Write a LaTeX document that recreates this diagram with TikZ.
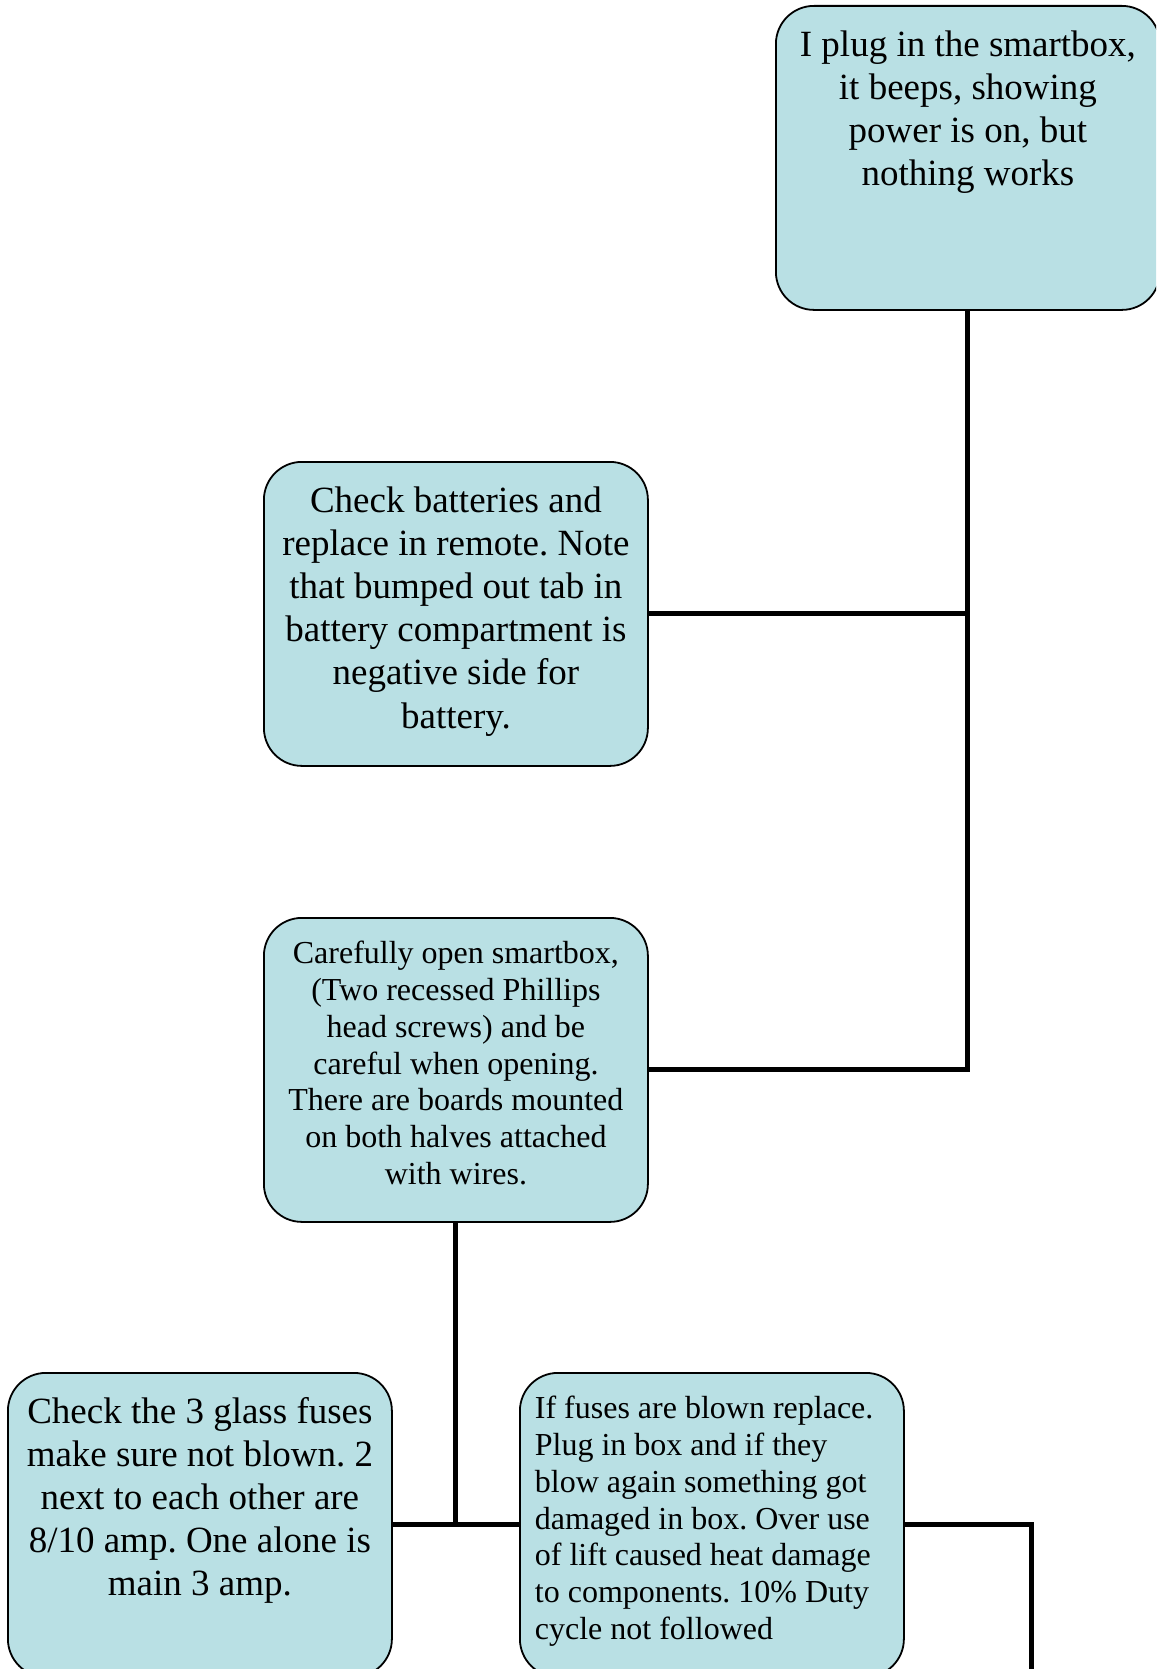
\documentclass[tikz,border=0pt]{standalone}
\usepackage{fontspec}
\setmainfont{Liberation Serif}
\frenchspacing

\definecolor{boxfill}{RGB}{185,224,228}

% text inside a box, set from the top
\newcommand{\boxtext}[2]{\parbox[c][152pt][t]{177pt}{#1\vspace*{10pt}\strut\ignorespaces#2}}
\newcommand{\bigtext}{\fontsize{18.5}{21.6}\selectfont}
\newcommand{\smalltext}{\fontsize{16}{18.4}\selectfont}

\tikzset{
  tbox/.style={draw, line width=0.9pt, fill=boxfill, rounded corners=19pt,
    inner xsep=7.5pt, inner ysep=0pt, minimum width=192pt, minimum height=152pt,
    anchor=north west},
  link/.style={line width=2.5pt}
}

\begin{document}
\begin{tikzpicture}[x=0.5pt,y=-0.5pt]
				\clip (0,0) rectangle (1156,1669);
				
				% Boxes
				\node[tbox] (plug) at (775,5) {\boxtext{\centering\bigtext}{I plug in the smartbox,\\ it beeps, showing\\ power is on, but\\ nothing works}};
				\node[tbox] (batt) at (263,461) {\boxtext{\centering\bigtext}{Check batteries and\\ replace in remote. Note\\ that bumped out tab in\\ battery compartment is\\ negative side for\\ battery.}};
				\node[tbox] (open) at (263,917) {\boxtext{\centering\smalltext}{Carefully open smartbox,\\ (Two recessed Phillips\\ head screws) and be\\ careful when opening.\\ There are boards mounted\\ on both halves attached\\ with wires.}};
				\node[tbox] (fuse) at (7,1372) {\boxtext{\centering\bigtext}{Check the 3 glass fuses\\ make sure not blown. 2\\ next to each other are\\ 8/10 amp. One alone is\\ main 3 amp.}};
				\node[tbox] (info) at (519,1372) {\boxtext{\raggedright\smalltext}{If fuses are blown replace.\\ Plug in box and if they\\ blow again something got\\ damaged in box. Over use\\ of lift caused heat damage\\ to components. 10\% Duty\\ cycle not followed}};
				
				% Connectors
				\draw[link] (plug.south) |- (open.east);
				\draw[link] (batt.east) -- (batt.east -| plug.south);
				\draw[link] (open.south) -- (open.south |- fuse.east);
				\draw[link] (fuse.east) -- (info.west);
				
				\coordinate (tail) at (1031,1690);
				\draw[link] (info.east) -| (tail);
			\end{tikzpicture}
\end{document}
